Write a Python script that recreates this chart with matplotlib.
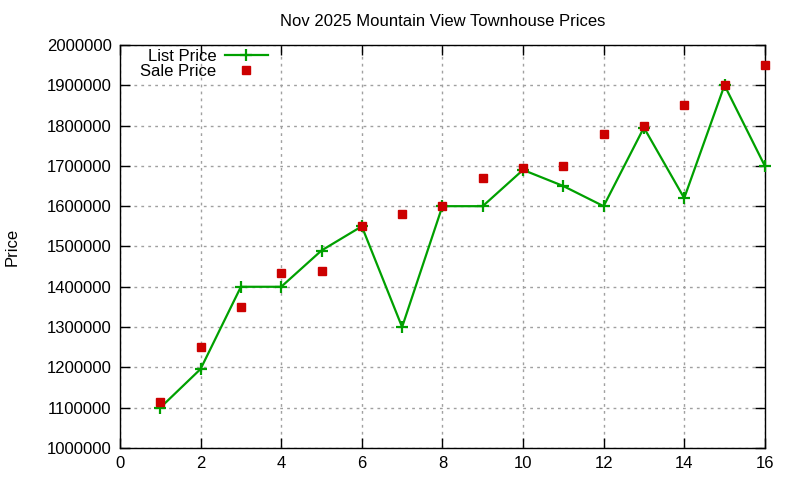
import matplotlib
matplotlib.use("Agg")
import matplotlib.pyplot as plt

plt.rcParams['font.family'] = ['Liberation Sans', 'DejaVu Sans']

# datos
casas = list(range(1, 17))
precio_lista = [1100000, 1196000, 1400000, 1400000, 1490000, 1550000, 1300000, 1600000,
                1600000, 1690000, 1650000, 1600000, 1795000, 1620000, 1900000, 1700000]
precio_venta = [1113000, 1250000, 1350000, 1435000, 1440000, 1550000, 1580000, 1600000,
                1670000, 1695000, 1700000, 1780000, 1800000, 1850000, 1900000, 1950000]

fig = plt.figure(figsize=(8, 4.8), dpi=100)
ax = fig.add_axes([0.15, 0.0667, 0.806, 0.8396])

ax.plot(casas, precio_lista, color='#00a000', linewidth=1.6, marker='+',
        markersize=8, markeredgewidth=1.6, label='List Price', clip_on=False, zorder=3)
ax.plot(casas, precio_venta, linestyle='none', marker='s', color='#cc0000',
        markersize=6, label='Sale Price', clip_on=False, zorder=4)

ax.set_xlim(0, 16)
ax.set_ylim(1000000, 2000000)
ax.set_xticks(range(0, 17, 2))
ax.set_yticks(range(1000000, 2000001, 100000))
ax.ticklabel_format(style='plain', axis='y', useOffset=False)

ax.grid(True, color='#a0a0a0', linestyle=(0, (2, 3)), linewidth=1)
ax.set_axisbelow(True)
ax.tick_params(direction='in', top=True, right=True, length=7, width=1,
               labelsize=12, pad=6)
for s in ax.spines.values():
    s.set_linewidth(1)

ax.set_title('Nov 2025 Mountain View Townhouse Prices', fontsize=12, pad=14)
ax.set_ylabel('Price', fontsize=12)
ax.yaxis.set_label_coords(-0.155, 0.5)

ax.legend(loc='upper left', bbox_to_anchor=(0.016, 1.015), markerfirst=False, frameon=False,
          fontsize=12, handlelength=2.6, labelspacing=0.0, borderaxespad=0.2,
          handletextpad=0.5)

fig.savefig('out.png', dpi=100)
